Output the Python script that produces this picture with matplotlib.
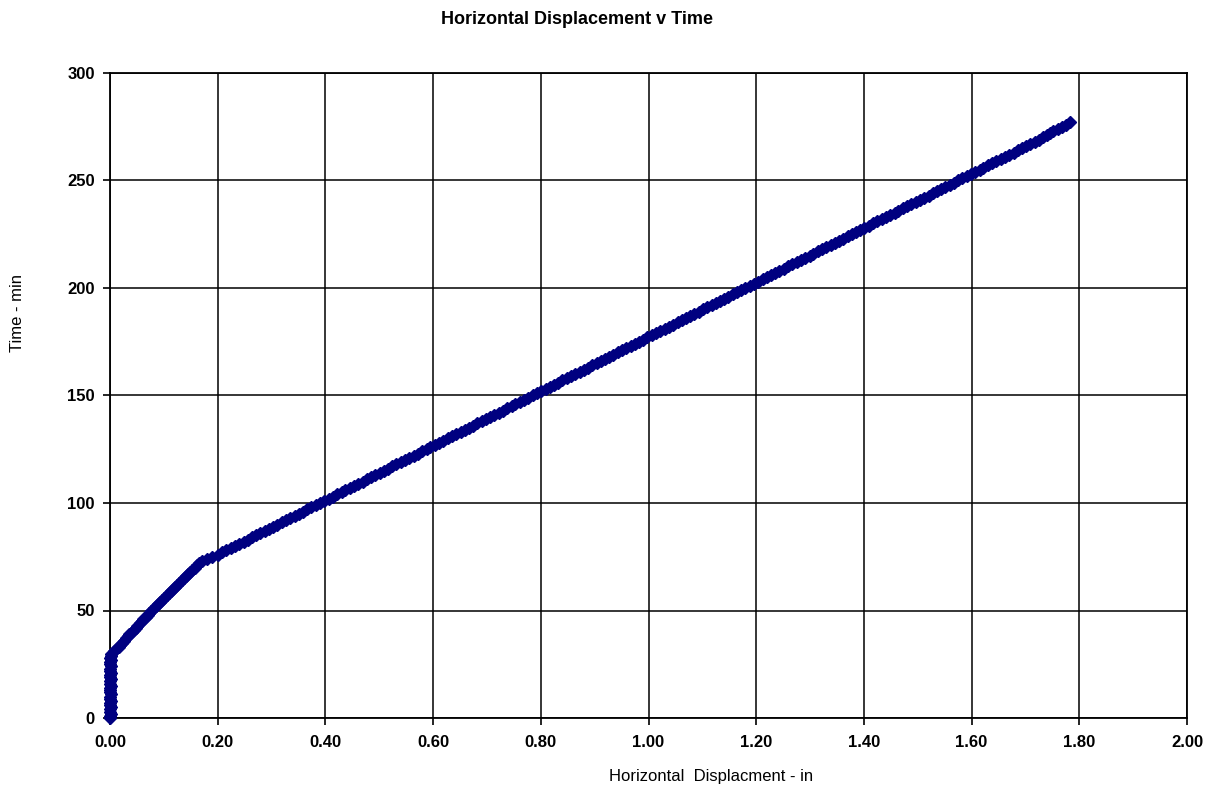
import matplotlib.pyplot as plt

plt.rcParams['font.family'] = ['Liberation Sans', 'DejaVu Sans']

# Time (min) and horizontal displacement (in)
time_min = [
    0, 1, 2, 3, 4, 5, 6, 7, 8, 9, 10, 11, 12, 13, 14, 15, 16, 17, 18, 19,
    20, 21, 22, 23, 24, 25, 26, 27, 28, 29, 30, 31, 32, 33, 34, 35, 36, 37, 38, 39,
    40, 41, 42, 43, 44, 45, 46, 47, 48, 49, 50, 51, 52, 53, 54, 55, 56, 57, 58, 59,
    60, 61, 62, 63, 64, 65, 66, 67, 68, 69, 70, 71, 72, 73, 74, 75, 76, 77, 78, 79,
    80, 81, 82, 83, 84, 85, 86, 87, 88, 89, 90, 91, 92, 93, 94, 95, 96, 97, 98, 99,
    100, 101, 102, 103, 104, 105, 106, 107, 108, 109, 110, 111, 112, 113, 114, 115, 116, 117, 118, 119,
    120, 121, 122, 123, 124, 125, 126, 127, 128, 129, 130, 131, 132, 133, 134, 135, 136, 137, 138, 139,
    140, 141, 142, 143, 144, 145, 146, 147, 148, 149, 150, 151, 152, 153, 154, 155, 156, 157, 158, 159,
    160, 161, 162, 163, 164, 165, 166, 167, 168, 169, 170, 171, 172, 173, 174, 175, 176, 177, 178, 179,
    180, 181, 182, 183, 184, 185, 186, 187, 188, 189, 190, 191, 192, 193, 194, 195, 196, 197, 198, 199,
    200, 201, 202, 203, 204, 205, 206, 207, 208, 209, 210, 211, 212, 213, 214, 215, 216, 217, 218, 219,
    220, 221, 222, 223, 224, 225, 226, 227, 228, 229, 230, 231, 232, 233, 234, 235, 236, 237, 238, 239,
    240, 241, 242, 243, 244, 245, 246, 247, 248, 249, 250, 251, 252, 253, 254, 255, 256, 257, 258, 259,
    260, 261, 262, 263, 264, 265, 266, 267, 268, 269, 270, 271, 272, 273, 274, 275, 276, 277,
]

displacement_in = [
    # 0 - 29 min : no movement
    0.000, 0.000, 0.001, 0.000, 0.000, 0.001, 0.000, 0.000, 0.001, 0.000,
    0.000, 0.001, 0.000, 0.000, 0.000, 0.001, 0.000, 0.000, 0.001, 0.000,
    0.000, 0.001, 0.000, 0.000, 0.001, 0.000, 0.000, 0.001, 0.000, 0.001,
    # 30 - 79 min
    0.002, 0.008, 0.012, 0.016, 0.019, 0.022, 0.026, 0.029, 0.033, 0.036,
    0.040, 0.044, 0.048, 0.051, 0.055, 0.059, 0.062, 0.066, 0.070, 0.073,
    0.077, 0.081, 0.085, 0.089, 0.093, 0.097, 0.101, 0.105, 0.109, 0.113,
    0.117, 0.121, 0.125, 0.129, 0.133, 0.137, 0.141, 0.145, 0.149, 0.153,
    0.157, 0.161, 0.165, 0.170, 0.180, 0.190, 0.200, 0.208, 0.216, 0.224,
    # 80 - 129 min
    0.232, 0.240, 0.248, 0.256, 0.264, 0.272, 0.279, 0.287, 0.295, 0.303,
    0.311, 0.319, 0.327, 0.335, 0.343, 0.351, 0.358, 0.366, 0.374, 0.382,
    0.390, 0.398, 0.406, 0.414, 0.422, 0.430, 0.437, 0.445, 0.453, 0.461,
    0.469, 0.477, 0.485, 0.493, 0.501, 0.509, 0.516, 0.524, 0.532, 0.540,
    0.548, 0.556, 0.564, 0.572, 0.580, 0.588, 0.595, 0.603, 0.611, 0.619,
    # 130 - 179 min
    0.627, 0.635, 0.643, 0.651, 0.659, 0.667, 0.674, 0.682, 0.690, 0.698,
    0.706, 0.714, 0.722, 0.730, 0.738, 0.746, 0.753, 0.761, 0.769, 0.777,
    0.785, 0.793, 0.801, 0.809, 0.817, 0.825, 0.832, 0.840, 0.848, 0.856,
    0.864, 0.872, 0.880, 0.888, 0.896, 0.904, 0.911, 0.919, 0.927, 0.935,
    0.943, 0.951, 0.959, 0.967, 0.975, 0.983, 0.990, 0.998, 1.006, 1.014,
    # 180 - 229 min
    1.022, 1.030, 1.038, 1.046, 1.054, 1.062, 1.069, 1.077, 1.085, 1.093,
    1.101, 1.109, 1.117, 1.125, 1.133, 1.141, 1.148, 1.156, 1.164, 1.172,
    1.180, 1.188, 1.196, 1.204, 1.212, 1.220, 1.227, 1.235, 1.243, 1.251,
    1.259, 1.267, 1.275, 1.283, 1.291, 1.299, 1.306, 1.314, 1.322, 1.330,
    1.338, 1.346, 1.354, 1.362, 1.370, 1.378, 1.385, 1.393, 1.401, 1.409,
    # 230 - 277 min
    1.417, 1.425, 1.433, 1.441, 1.449, 1.457, 1.464, 1.472, 1.480, 1.488,
    1.496, 1.504, 1.512, 1.520, 1.528, 1.536, 1.543, 1.551, 1.559, 1.567,
    1.575, 1.583, 1.591, 1.599, 1.607, 1.615, 1.622, 1.630, 1.638, 1.646,
    1.654, 1.662, 1.670, 1.678, 1.686, 1.694, 1.701, 1.709, 1.717, 1.725,
    1.733, 1.740, 1.745, 1.752, 1.760, 1.767, 1.775, 1.782,
]

x_ticks = [0.0, 0.2, 0.4, 0.6, 0.8, 1.0, 1.2, 1.4, 1.6, 1.8, 2.0]
y_ticks = [0, 50, 100, 150, 200, 250, 300]

fig = plt.figure(figsize=(12.13, 7.87), dpi=100)
ax = fig.add_axes([110 / 1213, 1 - 718 / 787, 1077 / 1213, 645 / 787])

ax.plot(displacement_in, time_min, linestyle='none', marker='D',
        markersize=6.5, color='#000080', markeredgecolor='#000080', clip_on=False, zorder=3)

ax.set_xlim(0, 2.0)
ax.set_ylim(0, 300)
ax.set_xticks(x_ticks)
ax.set_yticks(y_ticks)
ax.set_xticklabels([f"{v:.2f}" for v in x_ticks], fontsize=12, fontweight='bold')
ax.set_yticklabels([str(v) for v in y_ticks], fontsize=12, fontweight='bold')
ax.tick_params(axis='both', direction='out', length=5, width=1.2, color='black')
ax.tick_params(axis='x', pad=7)
ax.tick_params(axis='y', pad=6)

ax.grid(True, color='black', linewidth=1.1)
ax.set_axisbelow(True)
for s in ax.spines.values():
    s.set_color('black')
    s.set_linewidth(1.3)

fig.text(577 / 1213, 1 - 20 / 787, "Horizontal Displacement v Time",
         ha='center', va='center', fontsize=13, fontweight='bold')
fig.text(711 / 1213, 1 - 777 / 787, "Horizontal  Displacment - in",
         ha='center', va='center', fontsize=12)
fig.text(18 / 1213, 1 - 313 / 787, "Time - min", rotation=90,
         ha='center', va='center', fontsize=12)

fig.savefig('out.png', dpi=100)
